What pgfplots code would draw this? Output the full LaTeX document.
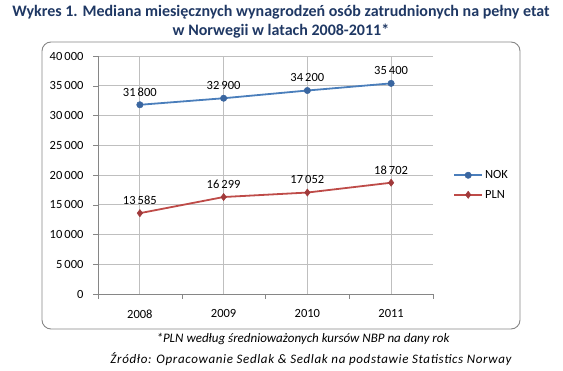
\documentclass[border=0pt]{standalone}
\usepackage{pgfplots}
\pgfplotsset{compat=1.18}
\usepackage{fontspec}
\setmainfont{Carlito}
\definecolor{ttl}{HTML}{1F3864}
\definecolor{nok}{HTML}{4A7EBB}
\definecolor{nokm}{HTML}{3A66A0}
\definecolor{pln}{HTML}{BE4B48}
\definecolor{plnm}{HTML}{A0393A}
\definecolor{axgray}{HTML}{868686}
\definecolor{grid}{HTML}{D9D9D9}
\begin{document}
\begin{tikzpicture}
\useasboundingbox (0,0) rectangle (563bp,371bp);
\node[font=\fontsize{16bp}{18bp}\selectfont\bfseries, text=ttl] at (281bp,359bp) {Wykres 1. Mediana miesięcznych wynagrodzeń osób zatrudnionych na pełny etat};
\node[font=\fontsize{16bp}{18bp}\selectfont\bfseries, text=ttl] at (281bp,340bp) {w Norwegii w latach 2008-2011*};
\draw[axgray, line width=0.9bp, rounded corners=9bp] (42bp,42bp) rectangle (520bp,329bp);
\begin{axis}[
  at={(98bp,77bp)}, anchor=south west,
  width=335bp, height=238bp, scale only axis,
  xmin=-0.5, xmax=3.5, ymin=0, ymax=40000,
  xtick={0,1,2,3}, xticklabels={2008,2009,2010,2011},
  minor xtick={-0.5,0.5,1.5,2.5,3.5},
  major x tick style={draw=none},
  minor x tick style={axgray},
  ytick={0,5000,...,40000},
  scaled y ticks=false,
  tick align=outside, major tick length=5bp, minor tick length=5bp,
  y tick style={axgray},
  ymajorgrids, major grid style={grid, line width=0.8bp},
  axis x line*=bottom, axis y line*=left,
  axis line style={axgray, line width=0.8bp},
  every axis plot/.append style={line width=1.8bp},
  /pgf/number format/.cd, fixed, precision=0, 1000 sep={\,}, assume math mode=true,
  /pgfplots/.cd,
  tick label style={font=\fontsize{12.5bp}{14bp}\selectfont},
  yticklabel style={xshift=-6bp},
  xticklabel style={yshift=-7bp},
  nodes near coords,
  nodes near coords style={font=\fontsize{12.5bp}{14bp}\selectfont, text=black, anchor=south, yshift=5bp},
  legend style={at={(1.06,0.458)}, anchor=west, draw=none, fill=none,
    font=\fontsize{12.5bp}{14bp}\selectfont, row sep=6bp, inner sep=0pt,
    /tikz/every even column/.append style={column sep=1bp}},
  legend cell align=left,
  legend image code/.code={
    \draw[#1, mark=none] (0bp,0bp) -- (28bp,0bp);
    \draw[#1, only marks] plot coordinates {(14bp,0bp)};
  },
  clip=false,
]
\addplot[color=nok, mark=*, mark size=3.2bp, mark options={fill=nokm, draw=nokm, line width=0.5bp}]
  coordinates {(0,31800) (1,32900) (2,34200) (3,35400)};
\addlegendentry{NOK}
\addplot[color=pln, mark=diamond*, mark size=3.6bp, mark options={fill=plnm, draw=plnm, line width=0.5bp}]
  coordinates {(0,13585) (1,16299) (2,17052) (3,18702)};
\addlegendentry{PLN}
\end{axis}
\node[font=\fontsize{13bp}{15bp}\selectfont\itshape] at (303bp,32bp) {*PLN według średnioważonych kursów NBP na dany rok};
\node[font=\fontsize{13bp}{15bp}\selectfont\itshape\addfontfeatures{LetterSpace=5}] at (311bp,12bp) {Źródło: Opracowanie Sedlak \& Sedlak na podstawie Statistics Norway};
\end{tikzpicture}
\end{document}
